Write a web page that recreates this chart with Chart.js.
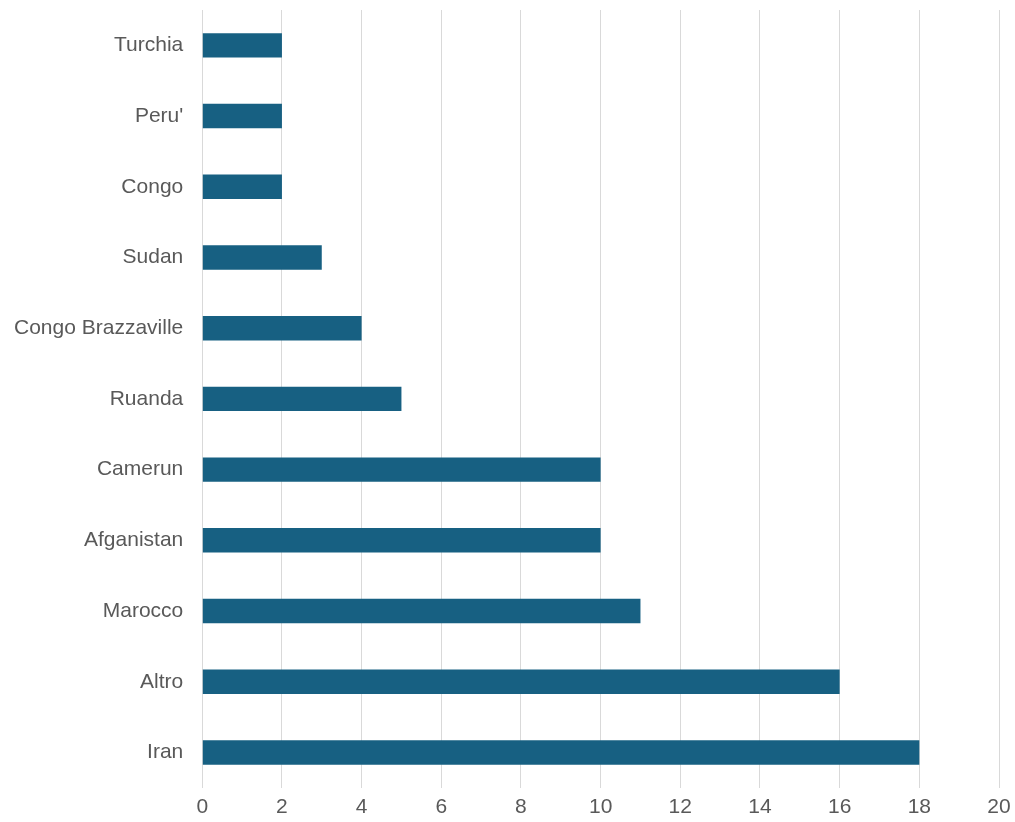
<!DOCTYPE html>
<html>
<head>
    <meta charset="UTF-8">
    <title>Paesi</title>
    <style>
      html, body { margin: 0; padding: 0; background: #fff; }
      .chartBox { width: 1015px; height: 822px; }
    </style>
</head>
<body>
  <div class="chartBox">
    <canvas id="myChart"></canvas>
  </div>
  <script src="https://cdn.jsdelivr.net/npm/chart.js"></script>
  <script>
// dati
const paesi = ["Turchia", "Peru'", "Congo", "Sudan", "Congo Brazzaville", "Ruanda",
               "Camerun", "Afganistan", "Marocco", "Altro", "Iran"];
const valori = [2, 2, 2, 3, 4, 5, 10, 10, 11, 16, 18];
const xMin = 0;
const xMax = 20;
const xStep = 2;

const data = {
  labels: paesi,
  datasets: [{
    data: valori,
    backgroundColor: '#176082',
    borderWidth: 0,
    barPercentage: 0.345,
    categoryPercentage: 1
  }]
};

const config = {
  type: 'bar',
  data,
  options: {
    indexAxis: 'y',
    responsive: true,
    maintainAspectRatio: false,
    animation: false,
    layout: { padding: { top: 10, right: 16, left: -5, bottom: -5 } },
    plugins: {
      legend: { display: false },
      tooltip: { enabled: false }
    },
    scales: {
      x: {
        min: xMin,
        max: xMax,
        ticks: {
          stepSize: xStep,
          color: '#595959',
          font: { family: 'Liberation Sans', size: 21 },
          padding: 7
        },
        grid: { color: '#d9d9d9', lineWidth: 1, drawTicks: false },
        border: { display: false },
        afterFit: function(scale) {
          scale.paddingLeft = 0;
          scale.paddingRight = 0;
        }
      },
      y: {
        ticks: {
          color: '#595959',
          font: { family: 'Liberation Sans', size: 21 },
          padding: 19
        },
        grid: { display: false, drawTicks: false },
        border: { display: false },
        afterFit: function(scale) {
          scale.paddingTop = 0;
          scale.paddingBottom = 0;
        }
      }
    }
  }
};

const myChart = new Chart(document.getElementById('myChart'), config);
  </script>
</body>
</html>
